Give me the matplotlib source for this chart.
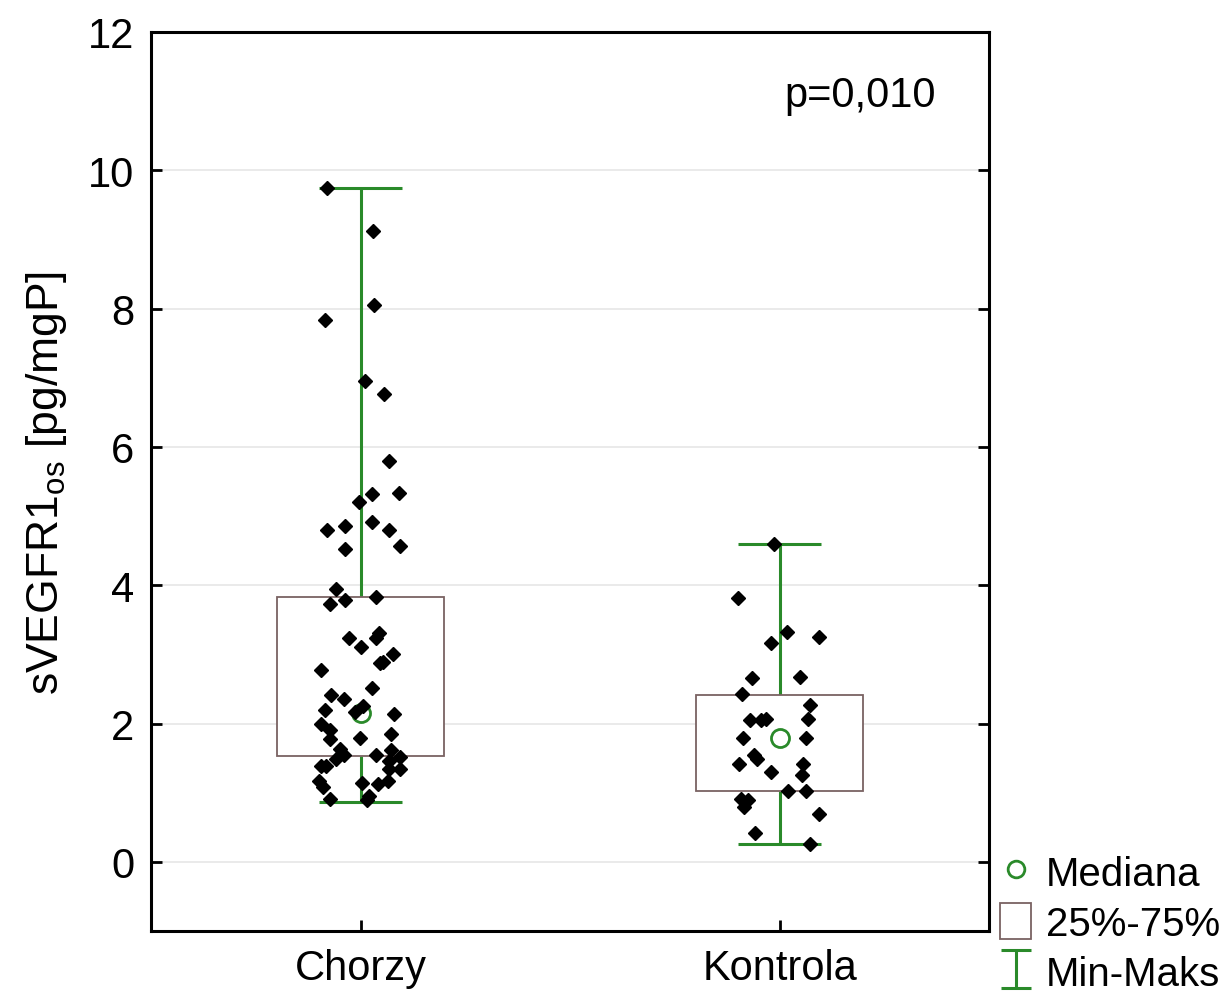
import matplotlib
matplotlib.use("Agg")
import matplotlib.pyplot as plt
from matplotlib.lines import Line2D
from matplotlib.patches import Patch
from matplotlib.path import Path

plt.rcParams['font.family'] = ['Liberation Sans', 'DejaVu Sans']

groups = ['Chorzy', 'Kontrola']

# summary statistics
medians = [2.15, 1.79]
q1 = [1.53, 1.02]
q3 = [3.83, 2.41]
mins = [0.87, 0.26]
maxs = [9.74, 4.60]

# individual observations (value, horizontal jitter as seen in the picture)
chorzy_vals = [9.74, 9.12, 8.05, 7.83, 6.95, 6.76, 5.80, 5.32, 5.34, 5.21,
               4.80, 4.85, 4.92, 4.80, 4.56, 4.52, 3.95, 3.79, 3.73, 3.83,
               3.24, 3.31, 3.24, 3.11, 3.00, 2.89, 2.87, 2.77, 2.52, 2.41,
               2.36, 2.26, 2.16, 2.19, 2.14, 1.99, 1.90, 1.78, 1.79, 1.85,
               1.63, 1.54, 1.49, 1.54, 1.61, 1.51, 1.46, 1.39, 1.38, 1.34,
               1.34, 1.17, 1.08, 1.14, 1.13, 1.17, 0.91, 0.89, 0.95]
chorzy_jit = [-0.080, 0.029, 0.033, -0.084, 0.010, 0.055, 0.068, 0.027, 0.091, -0.004,
              -0.080, -0.038, 0.027, 0.069, 0.094, -0.038, -0.058, -0.036, -0.072, 0.037,
              -0.028, 0.044, 0.036, 0.000, 0.077, 0.053, 0.047, -0.095, 0.027, -0.070,
              -0.040, 0.006, -0.014, -0.086, 0.079, -0.095, -0.074, -0.072, -0.002, 0.073,
              -0.050, -0.040, -0.058, 0.037, 0.073, 0.093, 0.069, -0.095, -0.082, 0.069,
              0.093, -0.098, -0.090, 0.004, 0.041, 0.065, -0.074, 0.015, 0.021]

kontrola_vals = [4.60, 3.82, 3.32, 3.17, 3.25, 2.66, 2.68, 2.43, 2.27, 2.05,
                 2.05, 2.07, 2.07, 1.79, 1.79, 1.54, 1.49, 1.41, 1.30, 1.41,
                 1.26, 1.03, 1.03, 0.91, 0.89, 0.79, 0.69, 0.42, 0.26]
kontrola_jit = [-0.014, -0.099, 0.018, -0.020, 0.094, -0.065, 0.048, -0.090, 0.072, -0.070,
                -0.045, -0.033, 0.068, -0.088, 0.062, -0.060, -0.053, -0.097, -0.020, 0.056,
                0.053, 0.020, 0.062, -0.092, -0.076, -0.084, 0.094, -0.058, 0.073]

p_text = 'p=0,010'

green = '#2a8a2a'
box_edge = '#7a6262'

fig = plt.figure(figsize=(12.3, 10.03), dpi=100)
ax = fig.add_axes([0.1228, 0.0708, 0.6813, 0.8963])

x = list(range(len(groups)))

ax.yaxis.grid(True, color='#e6e6e6', linewidth=1.2, zorder=0)
ax.set_axisbelow(True)

# whiskers + caps
ax.vlines(x, q3, maxs, color=green, linewidth=2.2, zorder=2)
ax.vlines(x, mins, q1, color=green, linewidth=2.2, zorder=2)
ax.hlines(maxs, [i - 0.1 for i in x], [i + 0.1 for i in x], color=green, linewidth=2.2, zorder=2)
ax.hlines(mins, [i - 0.1 for i in x], [i + 0.1 for i in x], color=green, linewidth=2.2, zorder=2)

# boxes
ax.bar(x, [b - a for a, b in zip(q1, q3)], bottom=q1, width=0.4,
       facecolor='white', edgecolor=box_edge, linewidth=1.3, zorder=2)

# medians
ax.plot(x, medians, 'o', mfc='none', mec=green, mew=2, ms=13, zorder=3)

# points
ax.plot([0 + j for j in chorzy_jit], chorzy_vals, 'D', color='black', ms=7.5, zorder=4)
ax.plot([1 + j for j in kontrola_jit], kontrola_vals, 'D', color='black', ms=7.5, zorder=4)

ax.set_xlim(-0.5, 1.5)
ax.set_ylim(-1, 12)
ax.set_yticks(range(0, 13, 2))
ax.set_xticks(x)
ax.set_xticklabels(groups)
ax.tick_params(axis='both', direction='in', labelsize=30, width=2, length=8, pad=12)
ax.tick_params(axis='y', right=True)
for s in ax.spines.values():
    s.set_linewidth(2.2)

ax.set_ylabel('sVEGFR1$_{\\mathregular{os}}$ [pg/mgP]', fontsize=32, labelpad=14)

ax.text(0.936, 0.93, p_text, transform=ax.transAxes, fontsize=30, ha='right', va='center')

# legend
marker_I = Path([(-0.75, -1), (0.75, -1), (0, -1), (0, 1), (-0.75, 1), (0.75, 1)],
                [Path.MOVETO, Path.LINETO, Path.MOVETO, Path.LINETO, Path.MOVETO, Path.LINETO])
handles = [
    Line2D([], [], marker='o', ls='none', mfc='none', mec=green, mew=2, ms=12),
    Patch(facecolor='white', edgecolor=box_edge, linewidth=1.3),
    Line2D([], [], marker=marker_I, ls='none', mfc='none', mec=green, mew=2.2, ms=28),
]
fig.legend(handles, ['Mediana', '25%-75%', 'Min-Maks'], loc='upper left',
           bbox_to_anchor=(0.813, 0.148), frameon=False, fontsize=29,
           handlelength=0.78, handleheight=1.0, handletextpad=0.35, labelspacing=0.25,
           borderaxespad=0, borderpad=0)

fig.savefig('out.png', dpi=100, facecolor='white')
